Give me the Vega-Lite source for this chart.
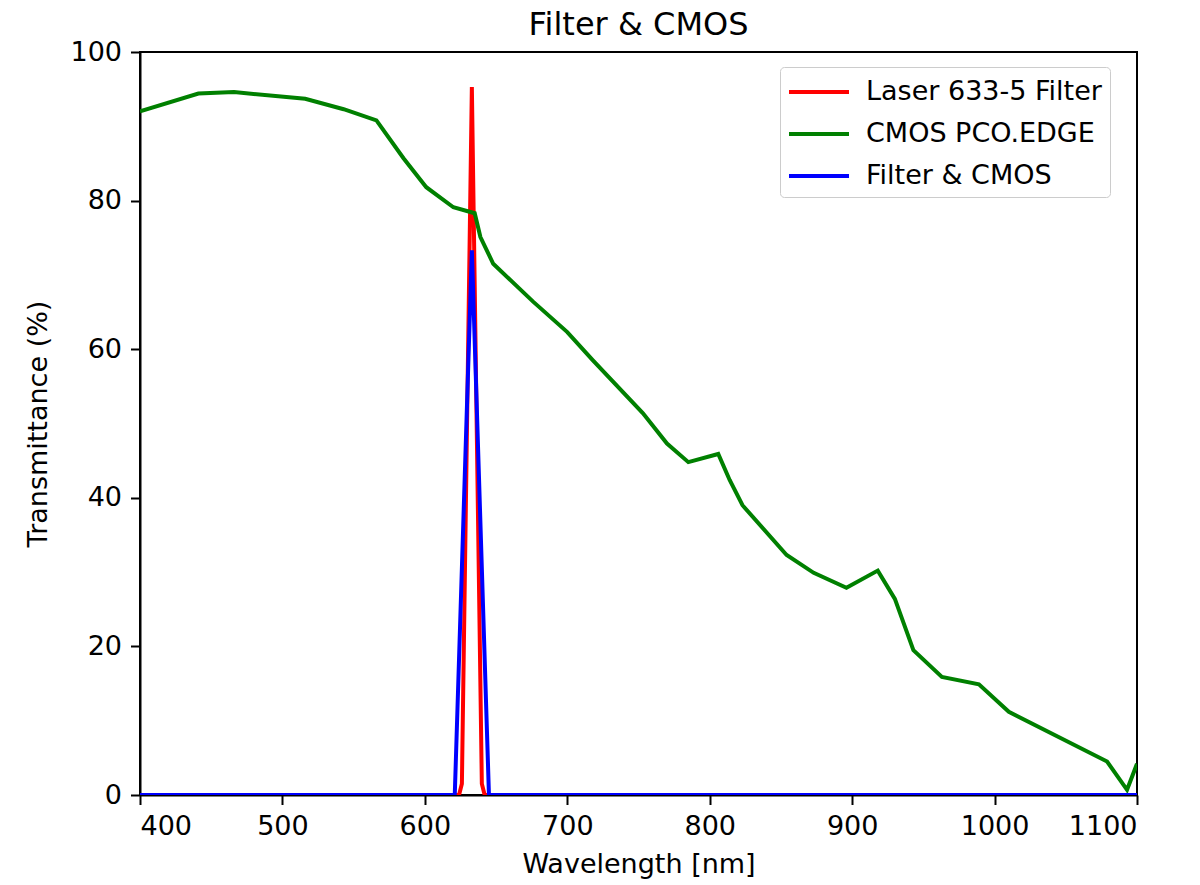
{
  "$schema": "https://vega.github.io/schema/vega-lite/v6.json",
  "width": 997,
  "height": 743,
  "autosize": "none",
  "padding": {"left": 140, "top": 52, "right": 63, "bottom": 90},
  "background": "white",
  "config": {
    "font": "DejaVu Sans",
    "view": {"stroke": "black", "strokeWidth": 2},
    "axis": {
      "grid": false,
      "domainColor": "black",
      "domainWidth": 2,
      "tickColor": "black",
      "tickWidth": 2,
      "tickSize": 9.5,
      "labelFont": "DejaVu Sans",
      "labelFontSize": 27,
      "labelColor": "black",
      "labelPadding": 9,
      "titleFont": "DejaVu Sans",
      "titleFontSize": 27,
      "titleFontWeight": "normal",
      "titleColor": "black"
    }
  },
  "title": {
    "text": "Filter & CMOS",
    "font": "DejaVu Sans",
    "fontSize": 32,
    "fontWeight": "normal",
    "color": "black",
    "anchor": "middle",
    "offset": -4
  },
  "datasets": {
    "spectra": [
      {"wavelength": 400, "transmittance": 0, "series": "Laser 633-5 Filter"},
      {"wavelength": 624, "transmittance": 0, "series": "Laser 633-5 Filter"},
      {"wavelength": 626, "transmittance": 1.5, "series": "Laser 633-5 Filter"},
      {"wavelength": 633, "transmittance": 95.3, "series": "Laser 633-5 Filter"},
      {"wavelength": 640, "transmittance": 1.5, "series": "Laser 633-5 Filter"},
      {"wavelength": 642, "transmittance": 0, "series": "Laser 633-5 Filter"},
      {"wavelength": 1100, "transmittance": 0, "series": "Laser 633-5 Filter"},
      {"wavelength": 400, "transmittance": 92.0, "series": "CMOS PCO.EDGE"},
      {"wavelength": 441, "transmittance": 94.4, "series": "CMOS PCO.EDGE"},
      {"wavelength": 466, "transmittance": 94.6, "series": "CMOS PCO.EDGE"},
      {"wavelength": 516, "transmittance": 93.7, "series": "CMOS PCO.EDGE"},
      {"wavelength": 543, "transmittance": 92.3, "series": "CMOS PCO.EDGE"},
      {"wavelength": 566, "transmittance": 90.8, "series": "CMOS PCO.EDGE"},
      {"wavelength": 585, "transmittance": 85.7, "series": "CMOS PCO.EDGE"},
      {"wavelength": 601, "transmittance": 81.8, "series": "CMOS PCO.EDGE"},
      {"wavelength": 620, "transmittance": 79.1, "series": "CMOS PCO.EDGE"},
      {"wavelength": 635, "transmittance": 78.3, "series": "CMOS PCO.EDGE"},
      {"wavelength": 639, "transmittance": 75.1, "series": "CMOS PCO.EDGE"},
      {"wavelength": 648, "transmittance": 71.5, "series": "CMOS PCO.EDGE"},
      {"wavelength": 676, "transmittance": 66.4, "series": "CMOS PCO.EDGE"},
      {"wavelength": 700, "transmittance": 62.3, "series": "CMOS PCO.EDGE"},
      {"wavelength": 718, "transmittance": 58.5, "series": "CMOS PCO.EDGE"},
      {"wavelength": 753, "transmittance": 51.4, "series": "CMOS PCO.EDGE"},
      {"wavelength": 770, "transmittance": 47.3, "series": "CMOS PCO.EDGE"},
      {"wavelength": 785, "transmittance": 44.8, "series": "CMOS PCO.EDGE"},
      {"wavelength": 806, "transmittance": 45.9, "series": "CMOS PCO.EDGE"},
      {"wavelength": 814, "transmittance": 42.4, "series": "CMOS PCO.EDGE"},
      {"wavelength": 823, "transmittance": 39.0, "series": "CMOS PCO.EDGE"},
      {"wavelength": 854, "transmittance": 32.3, "series": "CMOS PCO.EDGE"},
      {"wavelength": 873, "transmittance": 29.9, "series": "CMOS PCO.EDGE"},
      {"wavelength": 896, "transmittance": 27.9, "series": "CMOS PCO.EDGE"},
      {"wavelength": 918, "transmittance": 30.2, "series": "CMOS PCO.EDGE"},
      {"wavelength": 930, "transmittance": 26.4, "series": "CMOS PCO.EDGE"},
      {"wavelength": 943, "transmittance": 19.5, "series": "CMOS PCO.EDGE"},
      {"wavelength": 963, "transmittance": 15.9, "series": "CMOS PCO.EDGE"},
      {"wavelength": 989, "transmittance": 14.9, "series": "CMOS PCO.EDGE"},
      {"wavelength": 1010, "transmittance": 11.2, "series": "CMOS PCO.EDGE"},
      {"wavelength": 1079, "transmittance": 4.5, "series": "CMOS PCO.EDGE"},
      {"wavelength": 1093, "transmittance": 0.7, "series": "CMOS PCO.EDGE"},
      {"wavelength": 1100, "transmittance": 4.2, "series": "CMOS PCO.EDGE"},
      {"wavelength": 400, "transmittance": 0, "series": "Filter & CMOS"},
      {"wavelength": 621, "transmittance": 0, "series": "Filter & CMOS"},
      {"wavelength": 633, "transmittance": 73.3, "series": "Filter & CMOS"},
      {"wavelength": 645, "transmittance": 0, "series": "Filter & CMOS"},
      {"wavelength": 1100, "transmittance": 0, "series": "Filter & CMOS"}
    ]
  },
  "data": {"name": "spectra"},
  "encoding": {
    "x": {
      "field": "wavelength",
      "type": "quantitative",
      "scale": {"domain": [400, 1100], "nice": false, "zero": false},
      "axis": {"title": "Wavelength [nm]", "format": "d", "values": [400, 500, 600, 700, 800, 900, 1000, 1100], "titlePadding": 12}
    },
    "y": {
      "field": "transmittance",
      "type": "quantitative",
      "scale": {"domain": [0, 100], "nice": false},
      "axis": {"title": "Transmittance (%)", "format": "d", "values": [0, 20, 40, 60, 80, 100], "titlePadding": 17}
    },
    "color": {
      "field": "series",
      "type": "nominal",
      "scale": {
        "domain": ["Laser 633-5 Filter", "CMOS PCO.EDGE", "Filter & CMOS"],
        "range": ["#ff0000", "#008000", "#0000ff"]
      },
      "legend": {
        "title": null,
        "orient": "none",
        "legendX": 640,
        "legendY": 15,
        "symbolType": "M-2,0H2",
        "symbolSize": 900,
        "symbolOffset": 14,
        "symbolStrokeWidth": 4,
        "labelFont": "DejaVu Sans",
        "labelFontSize": 27,
        "labelColor": "black",
        "labelLimit": 0,
        "labelOffset": 30,
        "padding": 8,
        "rowPadding": 12,
        "strokeColor": "#cccccc",
        "fillColor": "white",
        "cornerRadius": 4
      }
    }
  },
  "layer": [
    {
      "transform": [{"filter": "datum.series === 'Laser 633-5 Filter'"}],
      "mark": {"type": "line", "strokeWidth": 4, "clip": true}
    },
    {
      "transform": [{"filter": "datum.series === 'CMOS PCO.EDGE'"}],
      "mark": {"type": "line", "strokeWidth": 4, "clip": true}
    },
    {
      "transform": [{"filter": "datum.series === 'Filter & CMOS'"}],
      "mark": {"type": "line", "strokeWidth": 4, "clip": true}
    }
  ]
}
